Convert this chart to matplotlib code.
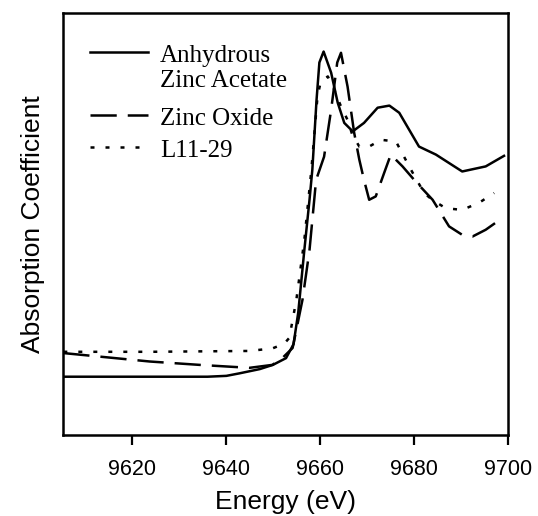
import matplotlib.pyplot as plt

# Zn K-edge XANES (energy in eV, absorption in arb. units)
acetate_e = [9605.3, 9636.0, 9640.0, 9642.8, 9647.1, 9649.9, 9652.7, 9654.3, 9655.3,
             9656.6, 9657.7, 9658.3, 9659.2, 9659.8, 9660.7, 9662.3, 9663.7, 9665.1,
             9666.9, 9669.3, 9672.2, 9674.7, 9676.8, 9681.0, 9684.6, 9690.2, 9695.2,
             9699.1]
acetate_mu = [0.138, 0.138, 0.140, 0.146, 0.156, 0.166, 0.182, 0.215, 0.290,
              0.438, 0.557, 0.628, 0.794, 0.882, 0.908, 0.858, 0.787, 0.739,
              0.719, 0.739, 0.775, 0.780, 0.763, 0.683, 0.664, 0.624, 0.636,
              0.661]

oxide_e = [9605.3, 9623.7, 9634.3, 9644.9, 9649.8, 9651.9, 9654.1, 9654.9, 9656.2,
           9657.7, 9659.1, 9660.8, 9662.3, 9663.6, 9664.4, 9665.8, 9667.2, 9668.3,
           9669.3, 9670.4, 9671.8, 9673.6, 9675.0, 9677.5, 9680.3, 9683.9, 9687.4,
           9690.2, 9692.4, 9695.2, 9698.0]
oxide_mu = [0.194, 0.174, 0.166, 0.159, 0.166, 0.182, 0.206, 0.249, 0.320,
            0.438, 0.604, 0.659, 0.770, 0.882, 0.905, 0.825, 0.716, 0.652,
            0.604, 0.557, 0.565, 0.621, 0.664, 0.636, 0.600, 0.557, 0.494,
            0.474, 0.470, 0.486, 0.508]

sample_e = [9605.3, 9623.7, 9644.9, 9649.8, 9652.3, 9653.4, 9654.9, 9656.6, 9658.1,
            9659.4, 9660.1, 9661.6, 9662.8, 9664.4, 9665.8, 9666.8, 9668.3, 9670.4,
            9672.9, 9676.1, 9679.3, 9682.1, 9683.8, 9686.7, 9690.2, 9693.8, 9697.0]
sample_mu = [0.197, 0.197, 0.199, 0.205, 0.216, 0.230, 0.320, 0.462, 0.628,
             0.802, 0.837, 0.849, 0.822, 0.778, 0.746, 0.711, 0.683, 0.683,
             0.699, 0.695, 0.628, 0.573, 0.557, 0.537, 0.533, 0.550, 0.573]

labels = ['Anhydrous\nZinc Acetate', 'Zinc Oxide', 'L11-29']
xticks = [9620, 9640, 9660, 9680, 9700]

lw = 1.8
styles = ['-', (0, (10.5, 4.4)), (0, (1.6, 4.4))]
series = [(acetate_e, acetate_mu), (oxide_e, oxide_mu), (sample_e, sample_mu)]

fig = plt.figure(figsize=(5.38, 5.16), dpi=100)
ax = fig.add_axes([0.1177, 0.157, 0.827, 0.8184])

for (e, mu), ls in zip(series, styles):
    ax.plot(e, mu, color='black', lw=lw, linestyle=ls, solid_joinstyle='round')

ax.set_xlim(9605.3, 9700)
ax.set_ylim(0, 1)
ax.set_xticks(xticks)
ax.set_yticks([])
ax.tick_params(axis='x', direction='out', length=7, width=1.6, pad=10.5,
               labelsize=15.5, labelfontfamily='Liberation Sans')
for sp in ax.spines.values():
    sp.set_linewidth(1.8)

ax.set_xlabel('Energy (eV)', fontsize=19, family='Liberation Sans', labelpad=7)
ax.set_ylabel('Absorption Coefficient', fontsize=19, family='Liberation Sans', labelpad=13)

# hand-made legend: handle aligned with the first text line
handle_y = [0.908, 0.758, 0.683]
for lab, ls, hy in zip(labels, styles, handle_y):
    ax.plot([0.060, 0.190], [hy, hy], transform=ax.transAxes, color='black',
            lw=lw, linestyle=ls)
    for k, line in enumerate(lab.split('\n')):
        ax.text(0.217, hy - 0.024 - k * 0.060, line, transform=ax.transAxes,
                va='baseline', ha='left', fontsize=18, family='Liberation Serif')

fig.savefig('out.png', dpi=100)
